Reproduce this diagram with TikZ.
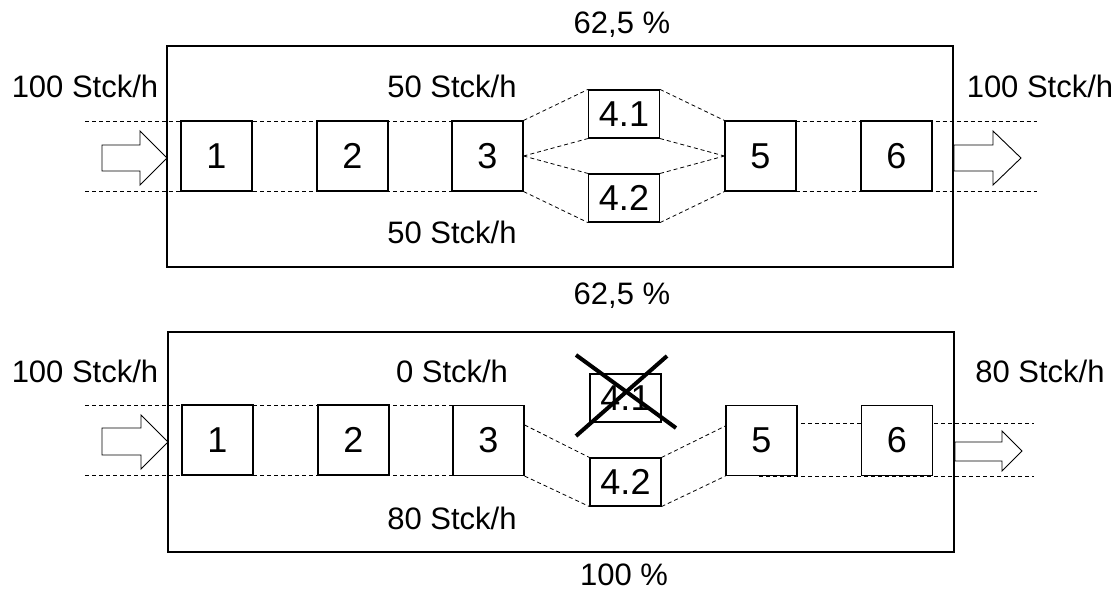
\documentclass[tikz,border=0pt]{standalone}
\usepackage{fontspec}
\setmainfont{Liberation Sans}
\usetikzlibrary{calc}
\begin{document}
\begin{tikzpicture}[x=1pt,y=-1pt,
  station/.style={draw,fill=white,line width=1.1pt,minimum width=71pt,minimum height=70pt,inner sep=0pt,font=\fontsize{36}{40}\selectfont},
  parallel/.style={station,minimum height=48pt},
  flow/.style={dash pattern=on 4pt off 3pt,line width=0.8pt},
  panel/.style={draw,line width=1.1pt},
  bigarrow/.style={draw,fill=white,line width=0.9pt,line join=miter},
  lbl/.style={inner sep=0pt,font=\fontsize{31}{36}\selectfont},
  strike/.style={line width=4pt}]
\useasboundingbox (0,0) rectangle (1117,592);

% ---------- upper line: both parallel stations running ----------
\draw[panel] (167,46) rectangle (953,267);
\node[lbl] (tpct) at (622,25) {62,5 \%};
\node[lbl] (tpctb) at (622,296) {62,5 \%};
\node[lbl] (tin) at (85,86) {100 Stck/h};
\node[lbl] (tout) at (1040,86) {100 Stck/h};
\node[lbl] (tup) at (452,86) {50 Stck/h};
\node[lbl] (tlo) at (452,232) {50 Stck/h};

\coordinate (tLa) at (85,121);
\coordinate (tLb) at (85,191);
\coordinate (tRa) at (1037,121);
\coordinate (tRb) at (1037,191);
\coordinate (tmida) at (487.5,121);
\coordinate (tmidb) at (487.5,191);
\coordinate (tmidc) at (760.5,121);
\coordinate (tmidd) at (760.5,191);
\draw[flow] (tLa) -- (tmida);
\draw[flow] (tLb) -- (tmidb);
\draw[flow] (tmidc) -- (tRa);
\draw[flow] (tmidd) -- (tRb);

\node[station] (t1) at (216.5,156) {1};
\node[station] (t2) at (352.5,156) {2};
\node[station] (t3) at (487.5,156) {3};
\node[parallel] (t41) at (624,114) {4.1};
\node[parallel] (t42) at (624,198) {4.2};
\node[station] (t5) at (760.5,156) {5};
\node[station] (t6) at (896.5,156) {6};

\draw[flow] (t3.north east) -- (t41.north west);
\draw[flow] (t3.east) -- (t41.south west);
\draw[flow] (t3.east) -- (t42.north west);
\draw[flow] (t3.south east) -- (t42.south west);
\draw[flow] (t41.north east) -- (t5.north west);
\draw[flow] (t41.south east) -- (t5.west);
\draw[flow] (t42.north east) -- (t5.west);
\draw[flow] (t42.south east) -- (t5.south west);

\draw[bigarrow] (102,145) -- (140,145) -- (140,131) -- (167,158) -- (140,185) -- (140,171) -- (102,171) -- cycle;
\draw[bigarrow] (954,145) -- (993,145) -- (993,131) -- (1021,158) -- (993,185) -- (993,171) -- (954,171) -- cycle;

% ---------- lower line: station 4.1 out of order ----------
\draw[panel] (168,332) rectangle (954,552);
\node[lbl] (bpct) at (624,575) {100 \%};
\node[lbl] (bin) at (85,371) {100 Stck/h};
\node[lbl] (bout) at (1040,371) {80 Stck/h};
\node[lbl] (bup) at (452,371) {0 Stck/h};
\node[lbl] (blo) at (452,518) {80 Stck/h};

\coordinate (bLa) at (85,405);
\coordinate (bLb) at (85,475);
\coordinate (bmida) at (488.5,405);
\coordinate (bmidb) at (488.5,475);
\coordinate (bRa) at (1034,423);
\coordinate (bRb) at (1034,476);
\coordinate (bmidc) at (759,423);
\coordinate (bmidd) at (759,476);
\draw[flow] (bLa) -- (bmida);
\draw[flow] (bLb) -- (bmidb);
\draw[flow] (bmidc) -- (bRa);
\draw[flow] (bmidd) -- (bRb);

\node[station] (b1) at (217.5,440) {1};
\node[station] (b2) at (353.5,440) {2};
\node[station] (b3) at (488.5,440.5) {3};
\node[parallel] (b41) at (625.5,398) {4.1};
\node[parallel] (b42) at (625.5,482) {4.2};
\node[station] (b5) at (761.5,440.5) {5};
\node[station] (b6) at (897,440.5) {6};

\coordinate (b3out) at ($(b3.north east)+(0,20)$);
\coordinate (b5in) at ($(b5.north west)+(0,21)$);
\draw[flow] (b3out) -- (b42.north west);
\draw[flow] (b3.south east) -- (b42.south west);
\draw[flow] (b42.north east) -- (b5in);
\draw[flow] (b42.south east) -- (b5.south west);

\coordinate (xa) at (576,355);
\coordinate (xb) at (676,428);
\coordinate (xc) at (667,356);
\coordinate (xd) at (576,436);
\draw[strike] (xa) -- (xb);
\draw[strike] (xc) -- (xd);

\draw[bigarrow] (102,428) -- (141,428) -- (141,415) -- (168,442) -- (141,469) -- (141,455) -- (102,455) -- cycle;
\draw[bigarrow] (955,442) -- (1002,442) -- (1002,431) -- (1022,451) -- (1002,471) -- (1002,461) -- (955,461) -- cycle;
\end{tikzpicture}
\end{document}
